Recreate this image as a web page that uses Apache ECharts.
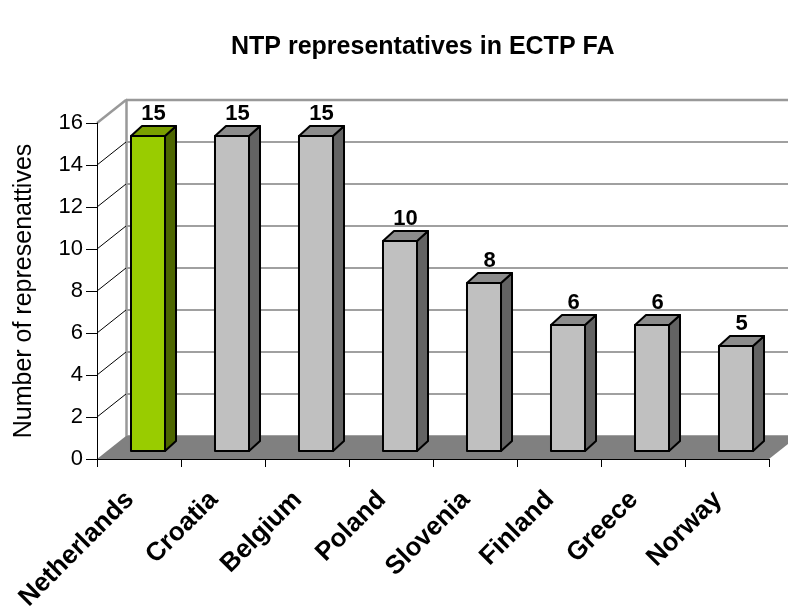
<!DOCTYPE html>
<html>
<head>
<meta charset="utf-8">
<style>
  html, body { margin: 0; padding: 0; background: #fff; }
  #main { width: 788px; height: 611px; }
</style>
<script src="https://cdn.jsdelivr.net/npm/echarts@6/dist/echarts.min.js"></script>
</head>
<body>
<div id="main"></div>
<script>
// 数据
var countries = ['Netherlands', 'Croatia', 'Belgium', 'Poland', 'Slovenia', 'Finland', 'Greece', 'Norway']
var representatives = [15, 15, 15, 10, 8, 6, 6, 5]
var highlighted = ['Netherlands']
var yTicks = [0, 2, 4, 6, 8, 10, 12, 14, 16]

// 3D 效果的偏移
var DX = 29, DY = 23       // 墙的深度
var BDX = 11, BDY = 10     // 柱子的深度
var FX = 9, FY = 8         // 柱子正面离前平面的距离
var LEFT = 97, TOP = 123, W = 672, H = 336
var FONT = 'Liberation Sans, Arial, sans-serif'

var green = { front: '#99cc00', top: '#7a9f00', side: '#4d6600' }
var gray = { front: '#c0c0c0', top: '#8c8c8c', side: '#636363' }

function bandLeft (api) {
  var p = api.coord([0, 0])
  var bw = api.size([1, 0])[0]
  return { x: p[0] - bw / 2, y: p[1], bw: bw }
}

// 地板
function renderFloor (params, api) {
  var b = bandLeft(api)
  var xr = b.x + b.bw * countries.length
  return {
    type: 'polygon',
    shape: { points: [[b.x, b.y], [xr, b.y], [xr + DX, b.y - DY], [b.x + DX, b.y - DY]] },
    style: { fill: '#808080' }
  }
}

// 左侧墙上的斜线
function renderWall (params, api) {
  var v = api.value(0)
  var b = bandLeft(api)
  var y = api.coord([0, v])[1]
  if (v === 0) return
  if (v === yTicks[yTicks.length - 1]) {
    return {
      type: 'group',
      children: [
        { type: 'line', shape: { x1: b.x, y1: y, x2: b.x + DX, y2: y - DY }, style: { stroke: '#999', lineWidth: 2.5 } },
        { type: 'line', shape: { x1: b.x + DX, y1: y - DY, x2: b.x + DX + b.bw * countries.length, y2: y - DY }, style: { stroke: '#999', lineWidth: 2.5 } }
      ]
    }
  }
  return { type: 'line', shape: { x1: b.x, y1: y, x2: b.x + DX, y2: y - DY }, style: { stroke: '#000', lineWidth: 1 } }
}

// 柱子
function renderBar (params, api) {
  var i = api.value(0), v = api.value(1)
  var top = api.coord([i, v]), base = api.coord([i, 0])
  var bw = api.size([1, 0])[0] * 0.405
  var x0 = top[0] + FX - bw / 2, x1 = x0 + bw
  var yT = top[1] - FY, yB = base[1] - FY
  var c = highlighted.indexOf(countries[i]) >= 0 ? green : gray
  var line = { stroke: '#000', lineWidth: 2, lineJoin: 'round' }
  return {
    type: 'group',
    children: [
      { type: 'polygon', shape: { points: [[x1, yT], [x1 + BDX, yT - BDY], [x1 + BDX, yB - BDY], [x1, yB]] }, style: Object.assign({ fill: c.side }, line) },
      { type: 'polygon', shape: { points: [[x0, yT], [x0 + BDX, yT - BDY], [x1 + BDX, yT - BDY], [x1, yT]] }, style: Object.assign({ fill: c.top }, line) },
      { type: 'rect', shape: { x: x0, y: yT, width: bw, height: yB - yT }, style: Object.assign({ fill: c.front }, line) },
      {
        type: 'text',
        style: {
          text: String(v), x: x0 + bw / 2 + BDX / 2, y: yT - BDY - 1,
          align: 'center', verticalAlign: 'bottom',
          fill: '#000', fontSize: 22, fontWeight: 'bold', fontFamily: FONT
        }
      }
    ]
  }
}

var mychart = echarts.init(document.getElementById('main'))
var option = {
  animation: false,
  backgroundColor: '#fff',
  title: {
    text: 'NTP representatives in ECTP FA',
    left: 226,
    top: 30,
    textStyle: { fontSize: 25, fontWeight: 'bold', color: '#000', fontFamily: FONT }
  },
  grid: [
    { left: LEFT, top: TOP, width: W, height: H, outerBoundsMode: 'none' },
    // 后墙
    { left: LEFT + DX, top: TOP - DY, width: W, height: H, outerBoundsMode: 'none' }
  ],
  xAxis: [
    {
      type: 'category',
      gridIndex: 0,
      data: countries,
      z: 5,
      axisLine: { lineStyle: { color: '#000', width: 1 } },
      axisTick: { show: true, length: 8, lineStyle: { color: '#000' } },
      axisLabel: {
        rotate: 45, margin: 46, interval: 0,
        align: 'right', verticalAlign: 'bottom',
        color: '#000', fontSize: 26, fontWeight: 'bold', fontFamily: FONT
      },
      splitLine: { show: false }
    },
    {
      type: 'category',
      gridIndex: 1,
      data: countries,
      axisLine: { show: false },
      axisTick: { show: false },
      axisLabel: { show: false },
      splitLine: { show: false }
    }
  ],
  yAxis: [
    {
      type: 'value',
      gridIndex: 0,
      min: 0, max: 16, interval: 2,
      z: 5,
      name: 'Number of represenattives',
      nameLocation: 'middle',
      nameRotate: 90,
      nameGap: 60,
      nameTextStyle: { fontSize: 25, color: '#000', fontFamily: FONT },
      axisLine: { show: true, lineStyle: { color: '#000', width: 1 } },
      axisTick: { show: true, length: 11, lineStyle: { color: '#000' } },
      axisLabel: { margin: 14, color: '#000', fontSize: 22, fontFamily: FONT },
      splitLine: { show: false }
    },
    {
      type: 'value',
      gridIndex: 1,
      min: 0, max: 16, interval: 2,
      axisLine: { show: true, lineStyle: { color: '#999', width: 2.5 } },
      axisTick: { show: false },
      axisLabel: { show: false },
      splitLine: { show: true, lineStyle: { color: '#808080', width: 1.5 } }
    }
  ],
  series: [
    {
      type: 'custom',
      name: 'floor',
      xAxisIndex: 0, yAxisIndex: 0,
      z: 1,
      clip: false,
      silent: true,
      data: [[0]],
      renderItem: renderFloor
    },
    {
      type: 'custom',
      name: 'wall',
      xAxisIndex: 0, yAxisIndex: 0,
      z: 1,
      clip: false,
      silent: true,
      data: yTicks.map(function (v) { return [v] }),
      renderItem: renderWall
    },
    {
      type: 'custom',
      name: 'representatives',
      xAxisIndex: 0, yAxisIndex: 0,
      z: 3,
      clip: false,
      data: representatives.map(function (v, i) { return [i, v] }),
      encode: { x: 0, y: 1 },
      renderItem: renderBar
    }
  ]
}
mychart.setOption(option)
</script>
</body>
</html>
